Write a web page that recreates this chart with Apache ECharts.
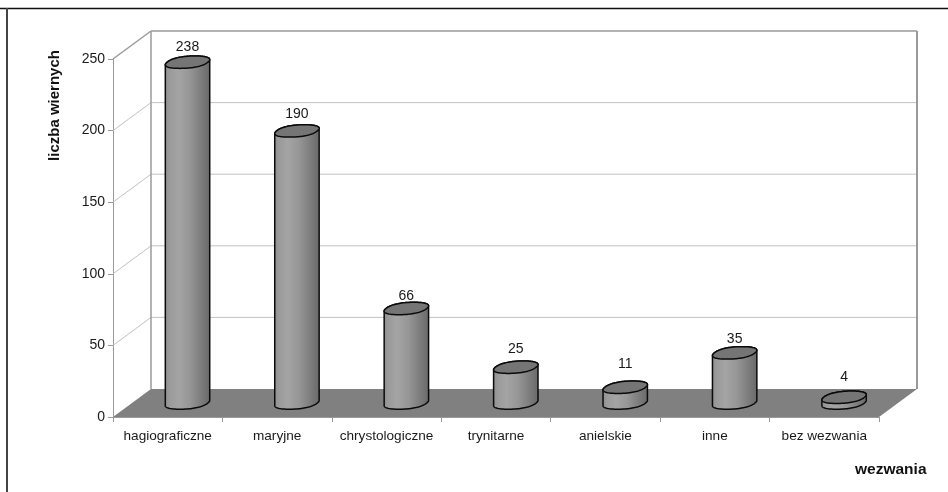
<!DOCTYPE html>
<html>
<head>
<meta charset="utf-8">
<style>html,body{margin:0;padding:0;background:#fff}#c{width:948px;height:492px}</style>
<script src="https://cdn.jsdelivr.net/npm/echarts@6/dist/echarts.min.js"></script>
</head>
<body>
<div id="c"></div>
<script>
const categories = ['hagiograficzne','maryjne','chrystologiczne','trynitarne','anielskie','inne','bez wezwania'];
const values = [238,190,66,25,11,35,4];
const yTicks = [0,50,100,150,200,250];

const FONT = '"Liberation Sans", Arial, sans-serif';
const DEPTH_X = 38, DEPTH_Y = -28;
const LABEL_GAP = [-15.5,-17,-12.5,-18.5,-23.5,-13.5,-20.5];
const EDGE = '#9a9a9a', GRID = '#c2c2c2';

function renderFrame(params, api) {
  if (params.dataIndex !== 0) return;
  const half = api.size([1, 0])[0] / 2;
  const n = categories.length;
  const x0 = api.coord([0, 0])[0] - half;
  const x1 = api.coord([n - 1, 0])[0] + half;
  const yB = api.coord([0, 0])[1];
  const yT = api.coord([0, yTicks[yTicks.length - 1]])[1];
  const children = [];
  const line = (a, b, c, d, color, w) => children.push({
    type: 'line', shape: { x1: a, y1: b, x2: c, y2: d },
    style: { stroke: color, lineWidth: w, fill: null }
  });
  children.push({
    type: 'polygon',
    shape: { points: [[x0, yB], [x1, yB], [x1 + DEPTH_X, yB + DEPTH_Y], [x0 + DEPTH_X, yB + DEPTH_Y]] },
    style: { fill: '#808080', stroke: null }
  });
  yTicks.forEach((t, i) => {
    if (i === 0) return;
    const y = api.coord([0, t])[1];
    const top = i === yTicks.length - 1;
    line(x0, y, x0 + DEPTH_X, y + DEPTH_Y, top ? EDGE : GRID, top ? 1.5 : 1);
    line(x0 + DEPTH_X, y + DEPTH_Y, x1 + DEPTH_X, y + DEPTH_Y, top ? EDGE : GRID, top ? 1.5 : 1);
  });
  line(x0 + DEPTH_X, yT + DEPTH_Y, x0 + DEPTH_X, yB + DEPTH_Y, EDGE, 1.5);
  line(x1 + DEPTH_X, yT + DEPTH_Y, x1 + DEPTH_X, yB + DEPTH_Y, EDGE, 2);
  return { type: 'group', children };
}

function renderCylinder(params, api) {
  const i = params.dataIndex;
  const band = api.size([1, 0])[0];
  const ux = band * 0.186, vx = 7.5, vy = -6.2;
  const base0 = api.coord([i, 0]);
  const top0 = api.coord([i, api.value(1)]);
  const cx = base0[0] + DEPTH_X / 2 + 0.8;
  const by = base0[1] + DEPTH_Y / 2;
  const ty = top0[1] + DEPTH_Y / 2;
  const S = 48;
  const f = v => Math.sign(v) * Math.pow(Math.abs(v), 0.88);
  const ring = cy => {
    const pts = [];
    for (let k = 0; k < S * 2; k++) {
      const t = Math.PI * k / S;
      pts.push([cx + f(Math.cos(t)) * ux + f(Math.sin(t)) * vx, cy + f(Math.sin(t)) * vy]);
    }
    return pts;
  };
  const cap = ring(ty), floorRing = ring(by);
  let iR = 0, iL = 0;
  cap.forEach((p, k) => {
    if (p[0] > cap[iR][0]) iR = k;
    if (p[0] < cap[iL][0]) iL = k;
  });
  const N = S * 2;
  const body = [];
  for (let k = iL; k <= iR + N; k++) body.push(floorRing[k % N]);
  for (let k = iR; k <= iL; k++) body.push(cap[k % N]);
  return {
    type: 'group',
    children: [
      {
        type: 'polygon', shape: { points: body },
        style: {
          stroke: '#0a0a0a', lineWidth: 1.5,
          fill: {
            type: 'linear', x: 0, y: 0, x2: 1, y2: 0,
            colorStops: [
              { offset: 0, color: '#8c8c8c' }, { offset: 0.1, color: '#9a9a9a' },
              { offset: 0.3, color: '#a4a4a4' }, { offset: 0.55, color: '#969696' },
              { offset: 0.8, color: '#7c7c7c' }, { offset: 1, color: '#686868' }
            ]
          }
        }
      },
      {
        type: 'polygon', shape: { points: cap },
        style: { fill: '#757575', stroke: '#0a0a0a', lineWidth: 1.5 }
      },
      {
        type: 'text',
        style: {
          text: String(api.value(1)), x: cx, y: ty + LABEL_GAP[i],
          align: 'center', verticalAlign: 'middle',
          font: '14px ' + FONT, fill: '#1a1a1a'
        }
      }
    ]
  };
}

const chart = echarts.init(document.getElementById('c'), null, { renderer: 'canvas' });
chart.setOption({
  animation: false,
  backgroundColor: '#fff',
  grid: { left: 113, right: 69, top: 59, bottom: 75 },
  xAxis: {
    type: 'category', data: categories,
    axisLine: { show: true, lineStyle: { color: EDGE, width: 1 } },
    axisTick: { show: true, length: 5, alignWithLabel: false, lineStyle: { color: EDGE } },
    axisLabel: { fontFamily: FONT, fontSize: 13.6, color: '#1a1a1a', margin: 12, interval: 0 },
    splitLine: { show: false }
  },
  yAxis: {
    type: 'value', min: 0, max: 250, interval: 50,
    axisLine: { show: true, lineStyle: { color: EDGE, width: 1 } },
    axisTick: { show: true, length: 5, lineStyle: { color: EDGE } },
    axisLabel: { fontFamily: FONT, fontSize: 14, color: '#1a1a1a', margin: 8 },
    splitLine: { show: false }
  },
  graphic: [
    { type: 'line', shape: { x1: 0, y1: 8.5, x2: 948, y2: 8.5 }, style: { stroke: '#111', lineWidth: 1.5 }, silent: true },
    { type: 'line', shape: { x1: 7, y1: 8, x2: 7, y2: 492 }, style: { stroke: '#444', lineWidth: 2 }, silent: true },
    {
      type: 'text', left: 855, top: 462,
      style: { text: 'wezwania', font: 'bold 15.5px ' + FONT, fill: '#111' }
    },
    {
      type: 'text', x: 55, y: 105.5, rotation: Math.PI / 2,
      style: { text: 'liczba wiernych', font: 'bold 15px ' + FONT, fill: '#111', align: 'center', verticalAlign: 'middle' }
    }
  ],
  series: [
    {
      type: 'custom', name: 'frame', coordinateSystem: 'cartesian2d',
      renderItem: renderFrame, data: [[0, 0]], z: 1, silent: true, clip: false
    },
    {
      type: 'custom', name: 'liczba wiernych', coordinateSystem: 'cartesian2d',
      renderItem: renderCylinder, z: 3, clip: false,
      data: categories.map((c, i) => [i, values[i]]),
      encode: { x: 0, y: 1 }
    }
  ]
});
</script>
</body>
</html>
